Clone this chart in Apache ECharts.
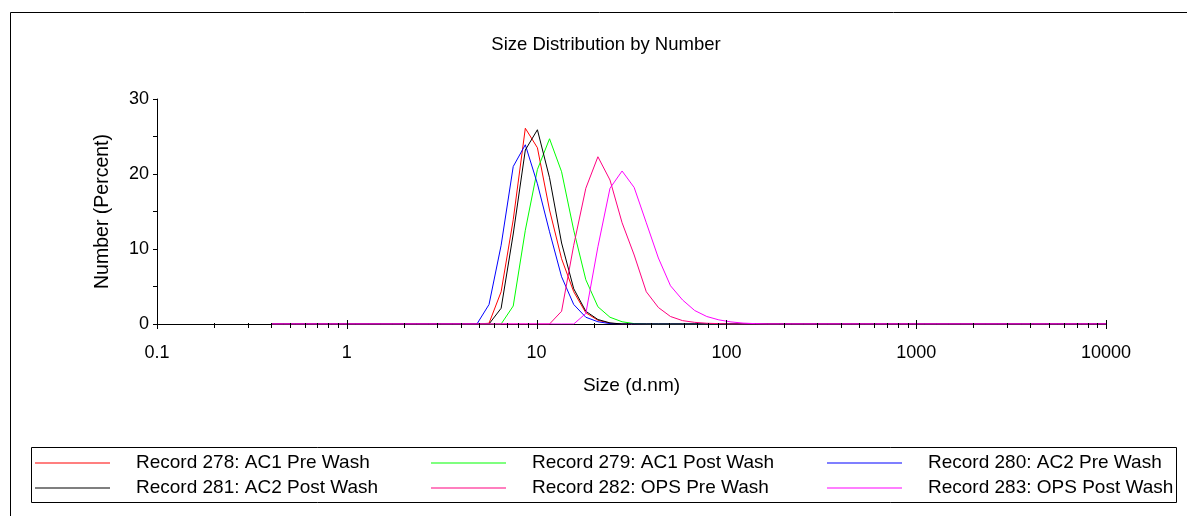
<!DOCTYPE html>
<html>
<head>
<meta charset="utf-8">
<script src="https://cdn.jsdelivr.net/npm/echarts@6/dist/echarts.min.js"></script>
<style>
html,body{margin:0;padding:0;background:#fff;}
#chart{width:1187px;height:516px;}
</style>
</head>
<body>
<div id="chart"></div>
<script>
// Size classes (d.nm)
const sizes = [
  0.4, 0.4632, 0.5365, 0.6213, 0.7195, 0.8332, 0.9649, 1.117, 1.294, 1.499,
  1.736, 2.01, 2.328, 2.696, 3.122, 3.615, 4.187, 4.849, 5.615, 6.503,
  7.531, 8.721, 10.1, 11.7, 13.54, 15.69, 18.17, 21.04, 24.36, 28.21,
  32.67, 37.84, 43.82, 50.75, 58.77, 68.06, 78.82, 91.28, 105.7, 122.4,
  141.8, 164.2, 190.1, 220.2, 255.0, 295.3, 342.0, 396.1, 458.7, 531.2,
  615.1, 712.4, 825.0, 955.4, 1106, 1281, 1484, 1718, 1990, 2305,
  2669, 3091, 3580, 4145, 4801, 5560, 6439, 7456, 8635, 10000
];

const rec278 = [
  0,0,0,0,0,0,0,0,0,0,
  0,0,0,0,0,0,0,0,0.1,4.3,
  13.9,26.1,23.5,15.2,8.7,4.3,1.5,0.5,0.1,0,
  0,0,0,0,0,0,0,0,0,0,
  0,0,0,0,0,0,0,0,0,0,
  0,0,0,0,0,0,0,0,0,0,
  0,0,0,0,0,0,0,0,0,0
];
const rec279 = [
  0,0,0,0,0,0,0,0,0,0,
  0,0,0,0,0,0,0,0,0,0,
  2.4,12.5,20.6,24.7,20.3,12.5,5.9,2.3,0.9,0.3,
  0.05,0,0,0,0,0,0,0,0,0,
  0,0,0,0,0,0,0,0,0,0,
  0,0,0,0,0,0,0,0,0,0,
  0,0,0,0,0,0,0,0,0,0
];
const rec280 = [
  0,0,0,0,0,0,0,0,0,0,
  0,0,0,0,0,0,0,0,2.6,10.5,
  21.0,23.9,18.7,12.3,6.3,2.6,0.9,0.3,0.05,0,
  0,0,0,0,0,0,0,0,0,0,
  0,0,0,0,0,0,0,0,0,0,
  0,0,0,0,0,0,0,0,0,0,
  0,0,0,0,0,0,0,0,0,0
];
const rec281 = [
  0,0,0,0,0,0,0,0,0,0,
  0,0,0,0,0,0,0,0,0,2.1,
  12.0,23.2,25.9,19.5,10.8,4.7,1.7,0.6,0.15,0,
  0,0,0,0,0,0,0,0,0,0,
  0,0,0,0,0,0,0,0,0,0,
  0,0,0,0,0,0,0,0,0,0,
  0,0,0,0,0,0,0,0,0,0
];
const rec282 = [
  0,0,0,0,0,0,0,0,0,0,
  0,0,0,0,0,0,0,0,0,0,
  0,0,0,0,1.7,10.5,18.1,22.3,19.2,13.5,
  9.2,4.3,2.2,1.0,0.45,0.22,0.1,0.05,0,0,
  0,0,0,0,0,0,0,0,0,0,
  0,0,0,0,0,0,0,0,0,0,
  0,0,0,0,0,0,0,0,0,0
];
const rec283 = [
  0,0,0,0,0,0,0,0,0,0,
  0,0,0,0,0,0,0,0,0,0,
  0,0,0,0,0,0,1.4,10.3,18.1,20.4,
  18.2,13.5,8.8,5.1,3.2,1.8,1.0,0.55,0.28,0.12,
  0.05,0,0,0,0,0,0,0,0,0,
  0,0,0,0,0,0,0,0,0,0,
  0,0,0,0,0,0,0,0,0,0
];

const seriesNames = [
  'Record 278: AC1 Pre Wash', 'Record 279: AC1 Post Wash', 'Record 280: AC2 Pre Wash',
  'Record 281: AC2 Post Wash', 'Record 282: OPS Pre Wash', 'Record 283: OPS Post Wash'
];
const seriesValues = [rec278, rec279, rec280, rec281, rec282, rec283];
const seriesColors = ['#ff0000', '#00ff00', '#0000ff', '#000000', '#ff0080', '#ff00ff'];

const xMajorTicks = [0.1, 1, 10, 100, 1000, 10000];
const xMinorTicks = [
  0.2,0.3,0.4,0.5,0.6,0.7,0.8,0.9,
  2,3,4,5,6,7,8,9,
  20,30,40,50,60,70,80,90,
  200,300,400,500,600,700,800,900,
  2000,3000,4000,5000,6000,7000,8000,9000
];

const FONT = '"Liberation Sans", Arial, sans-serif';
const chart = echarts.init(document.getElementById('chart'), null, {renderer: 'canvas'});

const lineSeries = seriesNames.map((name, k) => ({
  name: name,
  type: 'line',
  data: sizes.map((s, i) => [s, seriesValues[k][i]]),
  symbol: 'none',
  showSymbol: false,
  lineStyle: {color: seriesColors[k], width: 1},
  itemStyle: {color: seriesColors[k]},
  z: 2 + k,
  animation: false
}));

const tickData = xMajorTicks.map(v => [v, 0, 1]).concat(xMinorTicks.map(v => [v, 0, 0]));
const tickSeries = {
  type: 'custom',
  name: 'ticks',
  data: tickData,
  clip: false,
  z: 20,
  silent: true,
  renderItem: function (params, api) {
    const p = api.coord([api.value(0), 0]);
    const major = api.value(2) === 1;
    const x = Math.round(p[0]) + 0.5;
    return {
      type: 'line',
      shape: {x1: x, y1: p[1] - (major ? 4 : 1), x2: x, y2: p[1] + (major ? 5 : 4)},
      style: {stroke: '#000', lineWidth: 1}
    };
  }
};

function legendCol(left, names) {
  return {
    orient: 'vertical',
    left: left,
    top: 453,
    padding: 0,
    icon: 'rect',
    itemWidth: 75,
    itemHeight: 2,
    itemGap: 5,
    data: names,
    selectedMode: false,
    itemStyle: {opacity: 0.5},
    textStyle: {fontFamily: FONT, fontSize: 19, color: '#000', lineHeight: 20, padding: [0, 0, 0, 21]}
  };
}

chart.setOption({
  animation: false,
  backgroundColor: '#fff',
  grid: {left: 157, right: 81, top: 99, bottom: 192, containLabel: false},
  graphic: [
    {type: 'rect', shape: {x: 10.5, y: 12.5, width: 1300, height: 700}, style: {fill: 'none', stroke: '#000', lineWidth: 1}, silent: true},
    {type: 'rect', shape: {x: 31.5, y: 447.5, width: 1145, height: 55}, style: {fill: 'none', stroke: '#000', lineWidth: 1}, silent: true},
    {type: 'text', x: 606, y: 45, style: {text: 'Size Distribution by Number', font: '18.5px ' + FONT, fill: '#000', textAlign: 'center', textVerticalAlign: 'middle'}, silent: true}
  ],
  legend: [
    legendCol(35, [seriesNames[0], seriesNames[3]]),
    legendCol(431, [seriesNames[1], seriesNames[4]]),
    legendCol(827, [seriesNames[2], seriesNames[5]])
  ],
  xAxis: {
    type: 'log',
    logBase: 10,
    min: 0.1,
    max: 10000,
    name: 'Size (d.nm)',
    nameLocation: 'middle',
    nameGap: 52,
    nameTextStyle: {fontFamily: FONT, fontSize: 19, color: '#000'},
    axisLine: {show: true, lineStyle: {color: '#000', width: 1}},
    axisTick: {show: false},
    minorTick: {show: false},
    splitLine: {show: false},
    axisLabel: {
      fontFamily: FONT, fontSize: 18, color: '#000', margin: 20,
      formatter: function (v) { return String(Number(v.toPrecision(6))); }
    }
  },
  yAxis: {
    type: 'value',
    min: 0,
    max: 30,
    interval: 10,
    name: 'Number (Percent)',
    nameLocation: 'middle',
    nameGap: 44,
    nameTextStyle: {fontFamily: FONT, fontSize: 19.5, color: '#000'},
    axisLine: {show: true, lineStyle: {color: '#000', width: 1}},
    axisTick: {show: true, length: 4, lineStyle: {color: '#000'}},
    minorTick: {show: true, splitNumber: 2, length: 4, lineStyle: {color: '#000'}},
    splitLine: {show: false},
    axisLabel: {fontFamily: FONT, fontSize: 18, color: '#000', margin: 8}
  },
  series: lineSeries.concat([tickSeries])
});
</script>
</body>
</html>
